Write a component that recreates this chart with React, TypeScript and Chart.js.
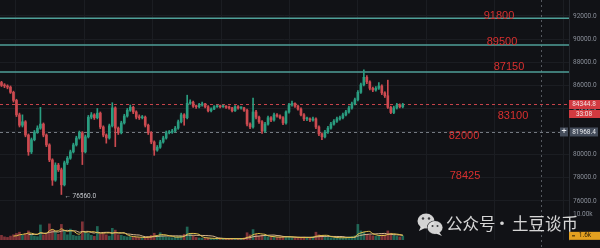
import React, { useEffect, useRef } from "react";
import { Chart, registerables } from "chart.js";

Chart.register(...registerables);

// ---------------- data ----------------
const opens = [
  86250, 86000, 85950, 85850, 85400, 84700, 83450, 82550, 82850, 81700,
  80250, 81300, 81950, 82300, 82650, 81700, 80850, 79550, 77800, 79100,
  78700, 77400, 79300, 79700, 80250, 80850, 81450, 81900, 80250, 81550,
  83250, 83450, 83200, 83600, 82400, 81700, 81450, 82500, 84050, 82300,
  81900, 82750, 83350, 83850, 84100, 83700, 83250, 83200, 83250, 82550,
  81900, 81100, 80400, 80650, 81100, 81450, 81900, 81950, 82050, 82300,
  82850, 83450, 83200, 84450, 84550, 84200, 84150, 84300, 84400, 84150,
  83800, 83950, 84150, 84200, 84150, 84200, 84100, 84050, 83800, 84150,
  84050, 84050, 83850, 82650, 82400, 83700, 83250, 82850, 82050, 82650,
  83200, 83000, 83450, 83350, 83200, 82750, 83700, 84300, 84450, 84200,
  83950, 83450, 83100, 83100, 83000, 83100, 82400, 81800, 81550, 81950,
  82300, 82650, 82900, 83100, 83200, 83450, 83700, 84050, 84400, 84750,
  85400, 86050, 86700, 86300, 85750, 85600, 85750, 85950, 85350, 85100,
  84100, 83650, 84050, 84300, 84150,
];
const closes = [
  86000, 85950, 85850, 85400, 84700, 83450, 82550, 82850, 81700, 80250,
  81300, 81950, 82300, 82650, 81700, 80850, 79550, 77800, 79100, 78700,
  77400, 79300, 79700, 80250, 80850, 81450, 81900, 80250, 81550, 83250,
  83450, 83200, 83600, 82400, 81700, 81450, 82500, 84050, 82300, 81900,
  82750, 83350, 83850, 84100, 83700, 83250, 83200, 83250, 82550, 81900,
  81100, 80400, 80650, 81100, 81450, 81900, 81950, 82050, 82300, 82850,
  83450, 83200, 84450, 84550, 84200, 84150, 84300, 84400, 84150, 83800,
  83950, 84150, 84200, 84150, 84200, 84100, 84050, 83800, 84150, 84050,
  84050, 83850, 82650, 82400, 83700, 83250, 82850, 82050, 82650, 83200,
  83000, 83450, 83350, 83200, 82750, 83700, 84300, 84450, 84200, 83950,
  83450, 83100, 83100, 83000, 83100, 82400, 81800, 81550, 81950, 82300,
  82650, 82900, 83100, 83200, 83450, 83700, 84050, 84400, 84750, 85400,
  86050, 86700, 86300, 85750, 85600, 85750, 85950, 85350, 85100, 84100,
  83650, 84050, 84300, 84150, 84344.8,
];
const highs = [
  86350, 86150, 86050, 85950, 85500, 84800, 83600, 83450, 82950, 81800,
  81450, 82100, 82500, 84100, 82750, 81800, 80950, 79650, 79300, 79250,
  78850, 79450, 79850, 80400, 81000, 81600, 82050, 82000, 81700, 83400,
  83650, 83550, 84000, 83700, 82500, 81800, 82650, 84500, 84150, 82400,
  82900, 83500, 84000, 84300, 84200, 83800, 83450, 83400, 83350, 82650,
  82000, 81200, 80800, 81250, 81600, 82050, 82100, 82200, 82450, 83000,
  83600, 83550, 85150, 84750, 84650, 84300, 84450, 84550, 84450, 84250,
  84050, 84250, 84300, 84300, 84300, 84250, 84200, 84100, 84250, 84250,
  84150, 84100, 83950, 82750, 84900, 83850, 83350, 82950, 82800, 83350,
  83300, 83600, 83550, 83450, 83300, 83800, 84450, 84650, 84500, 84300,
  84050, 83550, 83250, 83200, 83250, 83200, 82500, 81900, 82100, 82450,
  82800, 83050, 83250, 83350, 83600, 83850, 84200, 84550, 84900, 85550,
  86200, 87350, 86850, 86400, 85850, 85900, 86250, 86050, 85450, 86450,
  84200, 84200, 84450, 84400, 84450,
];
const lows = [
  85900, 85800, 85700, 85300, 84550, 83300, 82400, 82400, 81550, 79950,
  80100, 81200, 81850, 82200, 81550, 80700, 79400, 77350, 77700, 78550,
  76560, 77300, 79150, 79600, 80150, 80750, 81350, 79150, 80150, 81450,
  83100, 83050, 83100, 82250, 81550, 81000, 81350, 82400, 80700, 81750,
  81800, 82650, 83250, 83750, 83550, 83100, 83050, 83100, 82400, 81750,
  80950, 79950, 80300, 80550, 81000, 81350, 81800, 81850, 81950, 82200,
  82750, 82550, 83100, 84350, 84100, 84000, 84050, 84200, 84050, 83700,
  83700, 83900, 84100, 84050, 84100, 84000, 83950, 83700, 83750, 83950,
  83950, 83750, 82500, 82250, 82300, 83100, 82700, 81850, 81950, 82550,
  82850, 82900, 83250, 83100, 82600, 82650, 83600, 84200, 84100, 83850,
  83350, 82950, 82950, 82850, 82900, 82250, 81650, 81300, 81450, 81850,
  82200, 82550, 82800, 83000, 83100, 83350, 83600, 83950, 84300, 84650,
  85300, 85950, 86150, 85600, 85450, 85500, 85650, 85200, 84950, 84000,
  83550, 83550, 83950, 84050, 84050,
];
// volume in thousands
const volumes = [
  1.8, 1.2, 1.0, 1.5, 2.0, 2.5, 3.0, 1.8, 2.5, 3.5,
  2.2, 1.5, 1.3, 5.8, 2.0, 2.4, 6.2, 4.0, 3.0, 2.2,
  6.0, 3.5, 2.0, 4.2, 1.8, 1.5, 1.6, 7.0, 3.0, 2.5,
  1.8, 1.4, 5.2, 2.2, 2.8, 2.0, 1.5, 4.5, 3.8, 2.0,
  1.8, 1.4, 1.2, 1.3, 1.0, 1.1, 0.9, 0.8, 1.0, 1.4,
  1.8, 2.6, 1.6, 2.8, 1.5, 1.2, 1.0, 0.9, 1.1, 1.3,
  1.5, 2.2, 5.0, 2.5, 1.5, 1.0, 0.8, 0.7, 0.6, 0.8,
  0.6, 0.5, 0.4, 0.5, 0.4, 0.5, 0.5, 0.6, 0.5, 0.4,
  0.5, 0.8, 2.8, 2.0, 4.0, 2.2, 1.5, 1.8, 1.4, 1.2,
  1.0, 1.1, 1.0, 1.2, 1.4, 1.3, 1.2, 0.9, 0.8, 0.9,
  1.0, 1.1, 0.9, 1.0, 1.2, 3.0, 2.0, 1.6, 1.2, 1.0,
  0.9, 0.8, 0.9, 0.8, 0.9, 1.0, 1.2, 1.3, 1.6, 6.0,
  3.5, 3.0, 2.2, 1.8, 1.6, 1.4, 1.8, 2.0, 2.0, 3.5,
  2.6, 1.8, 1.4, 1.2, 1.6,
];

const priceTicks = [76000, 78000, 80000, 82000, 84000, 86000, 88000, 90000, 92000];
const levelLines = [91800, 89500, 87150];
const levelLabelValues = [91800, 89500, 87150, 83100, 82000, 78425];
const levelLabelTexts = ["91800", "89500", "87150", "83100", "82000", "78425"];
const lastPrice = 84344.8;
const countdownText = "33:08";
const crossPrice = 81968.4;
const lowMarkPrice = 76560.0;
const lowMarkIndex = 20;
const volumeTick = 10000;
const volumeTickText = "10.00k";
const lastVolume = 1600;
const lastVolumeText = "1.6k";
const watermarkParts = ["公众号", "·", "土豆谈币"];

// ---------------- layout / style ----------------
const BG = "#111216";
const GRID = "#1b1d22";
const GREEN = "#2a9d80";
const RED = "#cc4a50";
const TEAL = "#4f9f98";
const LABEL_RED = "#d9302f";
const AXIS_W = 31;
const SLOTS = 190;
const CROSS_SLOT = 180;
const X_GRID_START = 16.2;
const X_GRID_STEP = 22.85;
const PRICE_MAX = 93384;
const PRICE_MIN = 72624;
const VOL_MAX = 92300;
const LABEL_X = [499, 502, 509, 513, 464, 465];
const LABEL_DY = [-2, -3, -5, -3, 4, 3];
const WATERMARK_X = [446, 502, 512];

function App() {
  const ref = useRef<HTMLCanvasElement | null>(null);

  useEffect(() => {
    document.body.style.margin = "0";
    document.body.style.background = BG;
    const canvas = ref.current;
    if (!canvas) return;

    const up = closes.map((c, i) => c >= opens[i]);
    const candleColors = up.map((u) => (u ? GREEN : RED));
    const volColors = up.map((u) => (u ? "rgba(42,157,128,0.6)" : "rgba(204,74,80,0.6)"));
    const ma = (n: number) => {
      const out: { x: number; y: number }[] = [];
      for (let i = n - 1; i < volumes.length; i++) {
        let s = 0;
        for (let k = i - n + 1; k <= i; k++) s += volumes[k];
        out.push({ x: i, y: (s / n) * 1000 });
      }
      return out;
    };

    const xGrid: number[] = [];
    for (let v = X_GRID_START; v < SLOTS; v += X_GRID_STEP) xGrid.push(v);

    const overlay = {
      id: "overlay",
      beforeDraw(chart: any) {
        const ctx = chart.ctx;
        ctx.save();
        ctx.fillStyle = BG;
        ctx.fillRect(0, 0, chart.width, chart.height);
        ctx.restore();
      },
      beforeDatasetsDraw(chart: any) {
        const { ctx, chartArea: a } = chart;
        const x = chart.scales.x;
        const y = chart.scales.y;
        ctx.save();
        ctx.lineWidth = 1;
        ctx.setLineDash([2, 3]);
        ctx.strokeStyle = "rgba(140,146,156,0.55)";
        const cx = Math.round(x.getPixelForValue(CROSS_SLOT)) + 0.5;
        ctx.beginPath();
        ctx.moveTo(cx, 0);
        ctx.lineTo(cx, chart.height);
        ctx.stroke();
        ctx.setLineDash([3, 3]);
        ctx.strokeStyle = "rgba(150,156,166,0.75)";
        const gy = Math.round(y.getPixelForValue(crossPrice)) + 0.5;
        ctx.beginPath();
        ctx.moveTo(a.left, gy);
        ctx.lineTo(a.right - 9, gy);
        ctx.stroke();
        ctx.strokeStyle = "#c7434a";
        const ry = Math.round(y.getPixelForValue(lastPrice)) + 0.5;
        ctx.beginPath();
        ctx.moveTo(a.left, ry);
        ctx.lineTo(a.right, ry);
        ctx.stroke();
        ctx.setLineDash([]);
        ctx.strokeStyle = TEAL;
        ctx.lineWidth = 1.5;
        levelLines.forEach((v) => {
          const py = y.getPixelForValue(v);
          ctx.beginPath();
          ctx.moveTo(a.left, py);
          ctx.lineTo(a.right, py);
          ctx.stroke();
        });
        ctx.restore();
      },
      afterDraw(chart: any) {
        const { ctx, chartArea: a } = chart;
        const x = chart.scales.x;
        const y = chart.scales.y;
        const y1 = chart.scales.y1;
        ctx.save();
        ctx.font = "11px 'Liberation Sans', Arial, sans-serif";
        ctx.fillStyle = LABEL_RED;
        ctx.textAlign = "center";
        ctx.textBaseline = "middle";
        levelLabelTexts.forEach((t, i) => {
          ctx.fillText(t, LABEL_X[i], y.getPixelForValue(levelLabelValues[i]) + LABEL_DY[i]);
        });

        ctx.font = "6.5px Roboto, sans-serif";
        ctx.fillStyle = "#c4c7cc";
        ctx.textAlign = "left";
        ctx.fillText("← " + lowMarkPrice.toFixed(1), x.getPixelForValue(lowMarkIndex) + 3, y.getPixelForValue(lowMarkPrice) + 2);

        const axL = a.right;
        const ry = y.getPixelForValue(lastPrice);
        ctx.fillStyle = "#d23a40";
        ctx.fillRect(axL, ry - 4.5, 31, 9);
        ctx.fillRect(axL, ry + 5.5, 31, 8);
        ctx.fillStyle = "#f3e3e3";
        ctx.textAlign = "center";
        ctx.font = "6.5px Roboto, sans-serif";
        ctx.fillText(lastPrice.toFixed(1), axL + 15, ry);
        ctx.fillText(countdownText, axL + 15, ry + 9.5);

        const gy = y.getPixelForValue(crossPrice);
        ctx.fillStyle = "#454d5b";
        ctx.fillRect(axL - 9, gy - 4.5, 8, 9);
        ctx.fillRect(axL + 1, gy - 4.5, 28, 9);
        ctx.fillStyle = "#e8eaee";
        ctx.fillText(crossPrice.toFixed(1), axL + 15, gy);
        ctx.font = "9px Roboto, sans-serif";
        ctx.fillText("+", axL - 5, gy);

        ctx.font = "6.5px Roboto, sans-serif";
        ctx.fillStyle = "#8a8f99";
        ctx.textAlign = "left";
        ctx.fillText(volumeTickText, axL + 4, y1.getPixelForValue(volumeTick));

        const vy = y1.getPixelForValue(lastVolume);
        ctx.fillStyle = "#e3a020";
        ctx.fillRect(axL, vy - 4, 31, 8);
        ctx.fillStyle = "#2a1e08";
        ctx.textAlign = "center";
        ctx.fillText(lastVolumeText, axL + 16, vy);
        ctx.fillRect(axL + 3, vy - 0.5, 3, 1);

        // watermark icon
        ctx.fillStyle = "rgba(226,226,226,0.93)";
        ctx.beginPath();
        ctx.ellipse(426, 221, 8.5, 7.5, 0, 0, Math.PI * 2);
        ctx.fill();
        ctx.beginPath();
        ctx.moveTo(421, 226);
        ctx.lineTo(419, 231);
        ctx.lineTo(425, 228);
        ctx.fill();
        ctx.strokeStyle = "#2a2b2e";
        ctx.lineWidth = 1.2;
        ctx.beginPath();
        ctx.ellipse(435, 227.5, 7.5, 6.5, 0, 0, Math.PI * 2);
        ctx.stroke();
        ctx.fill();
        ctx.beginPath();
        ctx.moveTo(439, 232);
        ctx.lineTo(442, 236);
        ctx.lineTo(436, 233.5);
        ctx.fill();
        ctx.fillStyle = "#3a3b3e";
        [[423, 218.5, 1.2], [429, 218.5, 1.2], [432.5, 226, 1], [437.5, 226, 1]].forEach(([ex, ey, r]) => {
          ctx.beginPath();
          ctx.arc(ex, ey, r, 0, Math.PI * 2);
          ctx.fill();
        });

        ctx.font = "16.5px 'Noto Sans CJK SC', sans-serif";
        ctx.textAlign = "left";
        ctx.textBaseline = "middle";
        ctx.fillStyle = "rgba(228,228,228,0.93)";
        watermarkParts.forEach((t, i) => {
          if (t === "·") {
            ctx.textAlign = "center";
            ctx.fillText(t, WATERMARK_X[i], 224);
            ctx.textAlign = "left";
          } else {
            ctx.fillText(t, WATERMARK_X[i], 224);
          }
        });
        ctx.restore();
      },
    };

    const chart = new Chart(canvas, {
      type: "bar",
      data: {
        datasets: [
          {
            type: "bar",
            data: closes.map((c, i) => ({ x: i, y: [opens[i], c] })) as any,
            backgroundColor: candleColors,
            barThickness: 2,
            minBarLength: 1,
            grouped: false,
            borderWidth: 0,
            yAxisID: "y",
            order: 0,
          } as any,
          {
            type: "bar",
            data: closes.map((_, i) => ({ x: i, y: [lows[i], highs[i]] })) as any,
            backgroundColor: candleColors,
            barThickness: 1,
            grouped: false,
            borderWidth: 0,
            yAxisID: "y",
            order: 1,
          } as any,
          {
            type: "line",
            data: ma(5) as any,
            borderColor: "#e2c24c",
            borderWidth: 1,
            pointRadius: 0,
            tension: 0.3,
            yAxisID: "y1",
            order: 2,
          } as any,
          {
            type: "line",
            data: ma(10) as any,
            borderColor: "#d9b890",
            borderWidth: 1,
            pointRadius: 0,
            tension: 0.3,
            yAxisID: "y1",
            order: 2,
          } as any,
          {
            type: "bar",
            data: volumes.map((v, i) => ({ x: i, y: v * 1000 })) as any,
            backgroundColor: volColors,
            barThickness: 2,
            grouped: false,
            borderWidth: 0,
            yAxisID: "y1",
            order: 3,
          } as any,
        ],
      },
      options: {
        animation: false,
        responsive: false,
        devicePixelRatio: 1,
        layout: { padding: { left: 0, right: 0, top: 0, bottom: 8 } },
        plugins: { legend: { display: false }, tooltip: { enabled: false } },
        scales: {
          x: {
            type: "linear",
            min: -0.5,
            max: SLOTS - 0.5,
            offset: false,
            grid: { color: GRID, drawTicks: false },
            border: { display: false },
            ticks: { display: false },
            afterBuildTicks: (s: any) => {
              s.ticks = xGrid.map((v) => ({ value: v }));
            },
            afterFit: (s: any) => {
              s.height = 0;
              s.paddingLeft = 0;
              s.paddingRight = 0;
            },
          },
          y: {
            type: "linear",
            position: "right",
            min: PRICE_MIN,
            max: PRICE_MAX,
            grid: { color: GRID, drawTicks: false },
            border: { display: true, color: "#24272d" },
            ticks: {
              color: "#8a8f99",
              font: { size: 6.5, family: "Roboto" },
              padding: 4,
              callback: (v: any) => Number(v).toFixed(1),
            },
            afterBuildTicks: (s: any) => {
              s.ticks = priceTicks.map((v) => ({ value: v }));
            },
            afterFit: (s: any) => {
              s.width = AXIS_W;
              s.paddingTop = 0;
              s.paddingBottom = 0;
            },
          },
          y1: {
            type: "linear",
            display: false,
            min: 0,
            max: VOL_MAX,
          },
        },
      } as any,
      plugins: [overlay as any],
    });

    return () => chart.destroy();
  }, []);

  return (
    <div style={{ width: 600, height: 248 }}>
      <canvas ref={ref} width={600} height={248} style={{ display: "block" }} />
    </div>
  );
}

export default App;
